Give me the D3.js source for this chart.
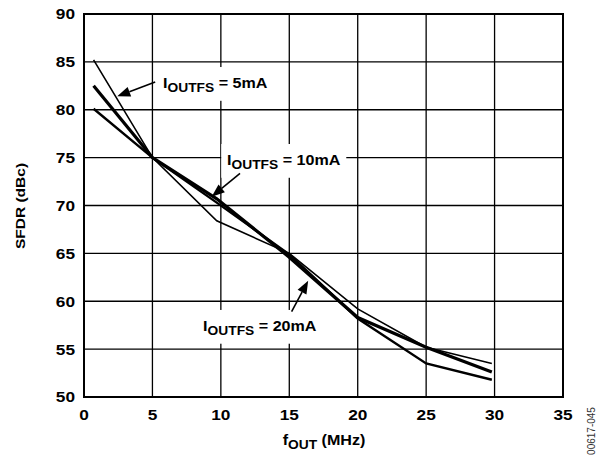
<!DOCTYPE html>
<html>
<head>
<meta charset="utf-8">
<script src="https://cdn.jsdelivr.net/npm/d3@7"></script>
<style>
  body { margin: 0; background: #fff; }
  text { font-family: "Liberation Sans", Arial, sans-serif; }
</style>
</head>
<body>
<script>
// chart data
var freqs = [0.7, 5, 9.7, 15, 20, 25, 29.8];
var sfdr5mA  = [85.2, 75, 68.4, 65.0, 59.2, 55.2, 53.5];
var sfdr10mA = [82.5, 75, 70.7, 64.6, 58.3, 55.2, 52.6];
var sfdr20mA = [80.1, 75, 70.3, 64.9, 58.2, 53.5, 51.8];
var xTicks = [0, 5, 10, 15, 20, 25, 30, 35];
var yTicks = [50, 55, 60, 65, 70, 75, 80, 85, 90];
var seriesNames = ["5mA", "10mA", "20mA"];
var seriesWidths = [1.6, 3.2, 2.4];

// annotations in data units: label x, label baseline y, arrow tail x,y, arrow tip x,y
var labelPos = [
  [5.77, 82.27, 5.2, 82.9, 2.43, 81.4],
  [10.45, 74.23, 11.4, 73.36, 9.33, 70.92],
  [8.7, 56.9, 15.17, 58.91, 16.38, 62.15]
];

var w = 602, h = 457;
var sx = 1.15; // reference type is a bit wider than Liberation Sans

var svg = d3.select("body").append("svg")
    .attr("width", w)
    .attr("height", h);

var x = d3.scaleLinear().domain([0, 35]).range([84, 563]);
var y = d3.scaleLinear().domain([50, 90]).range([397, 14]);

// text helper: positions a group and stretches it horizontally
function addText(px, py, rot) {
  var g = svg.append("g")
      .attr("transform", "translate(" + px + "," + py + ")" +
            (rot ? " rotate(" + rot + ")" : "") + " scale(" + sx + ",1)");
  return g;
}

// grid
svg.append("g").selectAll("line")
    .data(xTicks.slice(1, -1))
    .enter().append("line")
    .attr("x1", function(d) { return x(d); })
    .attr("x2", function(d) { return x(d); })
    .attr("y1", y(50)).attr("y2", y(90))
    .attr("stroke", "#000").attr("stroke-width", 1.3);
svg.append("g").selectAll("line")
    .data(yTicks.slice(1, -1))
    .enter().append("line")
    .attr("y1", function(d) { return y(d); })
    .attr("y2", function(d) { return y(d); })
    .attr("x1", x(0)).attr("x2", x(35))
    .attr("stroke", "#000").attr("stroke-width", 1.3);

// tick labels
yTicks.forEach(function(d) {
  addText(75, y(d)).append("text")
      .attr("dy", "0.36em")
      .attr("text-anchor", "end")
      .attr("font-size", 15)
      .attr("font-weight", "bold")
      .text(d);
});
xTicks.forEach(function(d) {
  addText(x(d), 420).append("text")
      .attr("text-anchor", "middle")
      .attr("font-size", 15)
      .attr("font-weight", "bold")
      .text(d);
});

// label boxes sit over the grid
var labelLayer = svg.append("g");

// lines
var allSeries = [sfdr5mA, sfdr10mA, sfdr20mA];
var line = d3.line()
    .x(function(d, i) { return x(freqs[i]); })
    .y(function(d) { return y(d); });

svg.append("g").selectAll("path")
    .data(allSeries)
    .enter().append("path")
    .attr("d", line)
    .attr("fill", "none")
    .attr("stroke", "#000")
    .attr("stroke-width", function(d, i) { return seriesWidths[i]; });

// frame
svg.append("rect")
    .attr("x", x(0)).attr("y", y(90))
    .attr("width", x(35) - x(0))
    .attr("height", y(50) - y(90))
    .attr("fill", "none")
    .attr("stroke", "#000")
    .attr("stroke-width", 2);

// annotations
seriesNames.forEach(function(name, i) {
  var p = labelPos[i];
  var g = labelLayer.append("g")
      .attr("transform", "translate(" + x(p[0]) + "," + y(p[1]) + ") scale(" + sx + ",1)");
  var t = g.append("text")
      .attr("font-size", 14)
      .attr("font-weight", "bold");
  t.append("tspan").text("I");
  t.append("tspan").attr("font-size", 12).attr("dy", 4).text("OUTFS");
  t.append("tspan").attr("dy", -4).text(" = " + name);
  var bb = t.node().getBBox();
  g.insert("rect", "text")
      .attr("x", bb.x - 5).attr("y", bb.y - 8)
      .attr("width", bb.width + 10).attr("height", bb.height + 14)
      .attr("fill", "#fff");

  // arrow
  var x1 = x(p[2]), y1 = y(p[3]), x2 = x(p[4]), y2 = y(p[5]);
  var ang = Math.atan2(y2 - y1, x2 - x1);
  var hl = 13, hw = 5;
  var bx = x2 - hl * Math.cos(ang), by = y2 - hl * Math.sin(ang);
  svg.append("line")
      .attr("x1", x1).attr("y1", y1).attr("x2", bx).attr("y2", by)
      .attr("stroke", "#000").attr("stroke-width", 1.6);
  svg.append("path")
      .attr("d", "M" + x2 + "," + y2 +
        "L" + (bx - hw * Math.sin(ang)) + "," + (by + hw * Math.cos(ang)) +
        "L" + (bx + hw * Math.sin(ang)) + "," + (by - hw * Math.cos(ang)) + "Z")
      .attr("fill", "#000");
});

// axis titles
addText(25, 206, -90).append("text")
    .attr("text-anchor", "middle")
    .attr("font-size", 13.5)
    .attr("font-weight", "bold")
    .text("SFDR (dBc)");

var xt = addText(324, 445).append("text")
    .attr("text-anchor", "middle")
    .attr("font-size", 14)
    .attr("font-weight", "bold");
xt.append("tspan").text("f");
xt.append("tspan").attr("font-size", 12).attr("dy", 4).text("OUT");
xt.append("tspan").attr("dy", -4).text(" (MHz)");

svg.append("text")
    .attr("transform", "translate(595,431) rotate(-90)")
    .attr("text-anchor", "middle")
    .attr("font-size", 10)
    .attr("fill", "#333")
    .text("00617-045");
</script>
</body>
</html>
